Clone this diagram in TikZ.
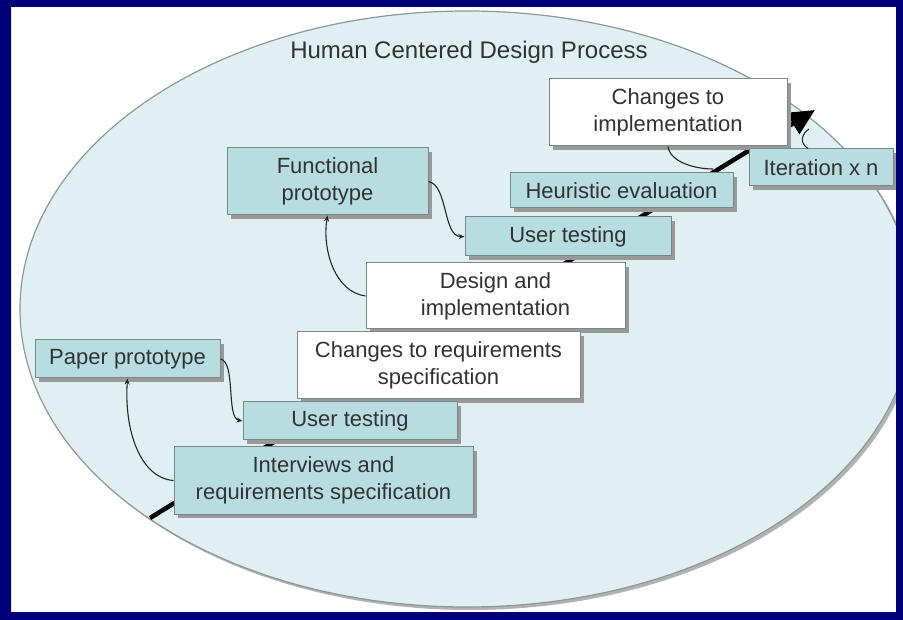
\documentclass[tikz,border=0pt]{standalone}
\usepackage{fontspec}
\setmainfont{Liberation Sans}
\usetikzlibrary{shadows,arrows.meta,calc}
\definecolor{navyframe}{RGB}{0,0,120}
\definecolor{ellfill}{RGB}{224,240,242}
\definecolor{ellline}{RGB}{140,152,153}
\definecolor{tealbox}{RGB}{183,221,224}
\definecolor{boxline}{RGB}{120,135,137}
\definecolor{txt}{RGB}{50,50,50}
\begin{document}
\begin{tikzpicture}[x=1pt,y=-1pt,
  basebox/.style={draw=boxline, line width=1pt, text=txt, align=center,
    font=\fontsize{22}{27}\selectfont, inner sep=0pt,
    drop shadow={shadow xshift=4pt,shadow yshift=-4pt,fill=black!40,opacity=1}},
  tealnode/.style={basebox, fill=tealbox},
  whitenode/.style={basebox, fill=white},
  thinarrow/.style={draw=black!85, line width=1.1pt, -{Stealth[length=6pt,width=5pt]}},
  thinline/.style={draw=black!85, line width=1.1pt},
  mainflow/.style={draw=black, line width=4.5pt, -{Triangle[length=26pt,width=24pt]}}]
\useasboundingbox (0,0) rectangle (903,620);
\fill[white] (0,0) rectangle (903,620);
\begin{scope}
  \clip (11,7) rectangle (896,612);
  \fill[black!30] (470,312) ellipse [x radius=447pt, y radius=298pt];
  \filldraw[fill=ellfill, draw=ellline, line width=1.2pt] (467,309) ellipse [x radius=447pt, y radius=298pt];
\end{scope}

\node[text=txt, font=\fontsize{24}{28}\selectfont] (title) at (469,52) {Human Centered Design Process};

% main flow line (behind the boxes)
\coordinate (flowstart) at (150,518);
\coordinate (flowtip) at (815,110);
\draw[mainflow] (flowstart) -- (flowtip);

% boxes
\node[whitenode, minimum width=238pt, minimum height=67pt] (CI) at (668,112.5) {Changes to\\implementation};
\node[tealnode, minimum width=144pt, minimum height=37pt] (IT) at (821,167.5) {Iteration x n};
\node[tealnode, minimum width=223pt, minimum height=35pt] (HE) at (621.5,190.5) {Heuristic evaluation};
\node[tealnode, minimum width=201pt, minimum height=67pt] (FP) at (327.5,181.5) {Functional\\prototype};
\node[tealnode, minimum width=206pt, minimum height=39pt] (UT2) at (568,236.5) {User testing};
\node[whitenode, minimum width=259pt, minimum height=66pt] (DI) at (495.5,296) {Design and\\implementation};
\node[whitenode, minimum width=283pt, minimum height=67pt] (CR) at (438.5,365.5) {Changes to requirements\\specification};
\node[tealnode, minimum width=185pt, minimum height=38pt] (PP) at (127.5,359) {Paper prototype};
\node[tealnode, minimum width=214pt, minimum height=38pt] (UT1) at (350,421) {User testing};
\node[tealnode, minimum width=299pt, minimum height=67pt] (IR) at (323.5,480.5) {Interviews and\\requirements specification};

% thin connectors
\draw[thinarrow] (IR.west) .. controls (140,478) and (124,430) .. (PP.south);
\draw[thinarrow] (PP.east) .. controls (236,362) and (226,418) .. (UT1.west);
\draw[thinarrow] (DI.west) .. controls (335,292) and (322,250) .. (FP.south);
\draw[thinarrow] (FP.east) .. controls (448,185) and (443,237) .. (UT2.west);
\coordinate (loopjoin) at (713,169);
\coordinate (loophead) at (809,129);
\draw[thinline] (CI.south) .. controls (670,162) and (695,169) .. (loopjoin);
\draw[thinline] ($(IT.north)+(-13,0)$) .. controls (798,142) and (803,133) .. (loophead);

% frame
\fill[navyframe, even odd rule] (0,0) rectangle (903,620) (11,7) rectangle (896,612);
\end{tikzpicture}
\end{document}
